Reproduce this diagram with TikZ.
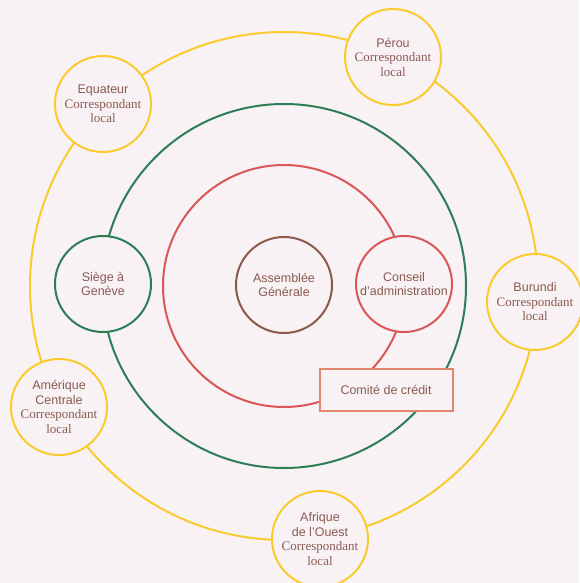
\documentclass[tikz,border=0pt]{standalone}
\usepackage{fontspec}
\setmainfont{Liberation Sans}
\newfontfamily\corrfont{Liberation Serif}
\definecolor{fond}{HTML}{F8F2F4}
\definecolor{jaune}{HTML}{F9CB2E}
\definecolor{vert}{HTML}{2E7D57}
\definecolor{rouge}{HTML}{D95757}
\definecolor{brun}{HTML}{8C5A4B}
\definecolor{saumon}{HTML}{E0876E}
\definecolor{texte}{HTML}{8A5A52}
\tikzset{
  rond/.style={circle,fill=fond,line width=2pt,minimum size=96pt,inner sep=0pt,
    align=center,text=texte,font=\fontsize{12.5}{14.5}\selectfont},
  corresp/.style={rond,draw=jaune},
  anneau/.style={line width=2pt}
}
\newcommand\serifloc{\fontsize{13}{14.5}\corrfont}
\newcommand\corr{\serifloc Correspondant\\\serifloc local}
\begin{document}
\begin{tikzpicture}[x=1pt,y=-1pt]
    \fill[fond] (0,0) rectangle (579,583);
    \useasboundingbox (0,0) rectangle (579,583);
    \coordinate (centre) at (284,286);
    % anneaux
    \draw[anneau,jaune] (centre) circle[radius=254pt];
    \draw[anneau,vert] (centre) circle[radius=182pt];
    \draw[anneau,rouge] (centre) circle[radius=121pt];
    % centre
    \node[rond,draw=brun] (ag) at (284,285) {Assemblée\\Générale};
    \node[rond,draw=rouge] (ca) at (404,284) {Conseil\\d’administration};
    \node[rond,draw=vert] (siege) at (103,284) {Siège à\\Genève};
    \node[draw=saumon,fill=fond,line width=2pt,minimum width=133pt,minimum height=42pt,
      text=texte,font=\fontsize{12.5}{14.5}\selectfont] (comite) at (386,390) {Comité de crédit};
    % correspondants
    \node[corresp] (equateur) at (103,104) {Equateur\\\corr};
    \node[corresp] (perou) at (393,57) {Pérou\\\corr};
    \node[corresp] (burundi) at (535,302) {Burundi\\\corr};
    \node[corresp] (amerique) at (59,407) {Amérique\\Centrale\\\corr};
    \node[corresp] (afrique) at (320,539) {Afrique\\de l’Ouest\\\corr};
\end{tikzpicture}
\end{document}
